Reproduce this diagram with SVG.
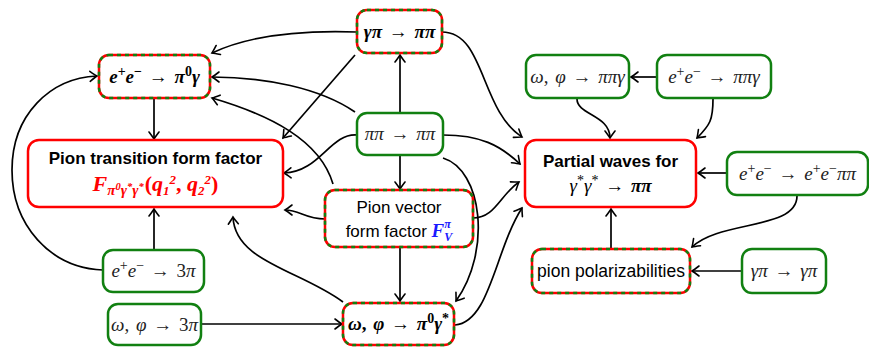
<svg xmlns="http://www.w3.org/2000/svg" width="869" height="347" viewBox="0 0 869 347">
<defs>
<style>
.box{fill:#fff;stroke-width:2.5}
.g{stroke:#118011}
.r{stroke:#f00}
.dash{fill:none;stroke:#118011;stroke-width:2.5;stroke-dasharray:4 4}
.e{fill:none;stroke:#000;stroke-width:1.7}
.m{font-family:"Liberation Serif","DejaVu Serif",serif;font-size:19px;fill:#222;word-spacing:2px}
.mb{font-family:"Liberation Serif","DejaVu Serif",serif;font-size:19px;font-weight:bold;fill:#000;word-spacing:2px}
.s{font-family:"Liberation Sans","DejaVu Sans",sans-serif;font-size:17px;fill:#000}
.sb{font-family:"Liberation Sans","DejaVu Sans",sans-serif;font-size:17px;font-weight:bold;fill:#000}
.i{font-style:italic}
.sup{font-size:14px}
</style>
<marker id="ah" viewBox="-10 -7 12 14" refX="0" refY="0" markerWidth="12" markerHeight="14" markerUnits="userSpaceOnUse" orient="auto">
<path d="M-7,-5 Q-2,-1.2 0,0 Q-2,1.2 -7,5" fill="none" stroke="#000" stroke-width="1.6" stroke-linecap="round"/>
</marker>
</defs>
<g id="edges" class="e" marker-end="url(#ah)">
<path d="M357,32 C300,30 250,35 212,53"/>
<path d="M355,55 L283,138"/>
<path d="M355,112 C320,88 265,77 212,77"/>
<path d="M357,135 C330,133 320,172 284,173"/>
<path d="M333,184 C320,140 270,115 212,98"/>
<path d="M325,219 C305,219 300,210 285,210"/>
<path d="M343,302 C300,270 235,262 233,217"/>
<path d="M154,250 L154,209"/>
<path d="M154,99 L154,139"/>
<path d="M103,270 C50,268 12,225 12,170 C12,115 50,78 97,76"/>
<path d="M400,113 L400,55"/>
<path d="M400,155 L400,189"/>
<path d="M400,247 L400,301"/>
<path d="M201,324 L342,324"/>
<path d="M443,158 C482,170 492,250 456,301"/>
<path d="M442,32 C485,32 480,110 522,137"/>
<path d="M443,135 C480,135 500,145 520,164"/>
<path d="M473,218 C495,218 500,195 519,182"/>
<path d="M455,325 C490,322 495,250 522,208"/>
<path d="M577,99 C577,115 610,115 610,138"/>
<path d="M713,99 C713,120 710,125 697,138"/>
<path d="M727,173 L698,173"/>
<path d="M797,196 C797,230 720,220 692,247"/>
<path d="M611,249 L611,209"/>
<path d="M742,271 L692,271"/>
<path d="M657,77 L631,77"/>
</g>
<g id="n-ee-pi0g">
<rect class="box r" x="99" y="55" width="111" height="43" rx="10"/>
<rect class="dash" x="99" y="55" width="111" height="43" rx="10"/>
<text class="mb" x="154.5" y="83" text-anchor="middle"><tspan class="i">e</tspan><tspan class="sup" dy="-7">+</tspan><tspan class="i" dy="7">e</tspan><tspan class="sup" dy="-7">−</tspan><tspan dy="7"> → </tspan><tspan class="i">π</tspan><tspan class="sup" dy="-7">0</tspan><tspan class="i" dy="7">γ</tspan></text>
</g>
<g id="n-gpi-pipi">
<rect class="box r" x="357" y="10" width="85" height="43" rx="10"/>
<rect class="dash" x="357" y="10" width="85" height="43" rx="10"/>
<text class="mb" x="399.5" y="38" text-anchor="middle"><tspan class="i">γπ</tspan> → <tspan class="i">ππ</tspan></text>
</g>
<g id="n-wphi-pipig">
<rect class="box g" x="526" y="55" width="103" height="43" rx="10"/>
<text class="m" x="577.5" y="83" text-anchor="middle"><tspan class="i">ω</tspan>, <tspan class="i">φ</tspan> → <tspan class="i">ππγ</tspan></text>
</g>
<g id="n-ee-pipig">
<rect class="box g" x="657" y="55" width="114" height="43" rx="10"/>
<text class="m" x="714" y="83" text-anchor="middle"><tspan class="i">e</tspan><tspan class="sup" dy="-7">+</tspan><tspan class="i" dy="7">e</tspan><tspan class="sup" dy="-7">−</tspan><tspan dy="7"> → </tspan><tspan class="i">ππγ</tspan></text>
</g>
<g id="n-tff">
<rect class="box r" x="28" y="140" width="255" height="67" rx="11"/>
<text class="sb" x="155.5" y="164" text-anchor="middle">Pion transition form factor</text>
<text class="mb i" x="155.5" y="191" text-anchor="middle" style="fill:#f00;word-spacing:0;font-size:22px">F<tspan font-size="15" dy="4">π</tspan><tspan font-size="10.5" dy="-5">0</tspan><tspan font-size="15" dy="5">γ</tspan><tspan font-size="10.5" dy="-5">*</tspan><tspan font-size="15" dy="5">γ</tspan><tspan font-size="10.5" dy="-5">*</tspan><tspan font-style="normal" dx="1" dy="1">(</tspan>q<tspan font-size="13" dy="4">1</tspan><tspan font-size="13" dy="-11">2</tspan><tspan font-style="normal" dy="7">, </tspan>q<tspan font-size="13" dy="4">2</tspan><tspan font-size="13" dy="-11">2</tspan><tspan font-style="normal" dy="7">)</tspan></text>
</g>
<g id="n-pipi-pipi">
<rect class="box g" x="357" y="113" width="86" height="42" rx="10"/>
<text class="m" x="400" y="140" text-anchor="middle"><tspan class="i">ππ</tspan> → <tspan class="i">ππ</tspan></text>
</g>
<g id="n-vff">
<rect class="box r" x="325" y="190" width="148" height="57" rx="10"/>
<rect class="dash" x="325" y="190" width="148" height="57" rx="10"/>
<text class="s" x="399" y="213" text-anchor="middle">Pion vector</text>
<text class="s" x="399" y="237" text-anchor="middle">form factor <tspan class="i" font-family="Liberation Serif,serif" font-weight="bold" font-size="19" fill="#1a1aff">F</tspan><tspan font-family="Liberation Serif,serif" font-weight="bold" font-style="italic" font-size="12" fill="#1a1aff" dy="-9">π</tspan><tspan font-family="Liberation Serif,serif" font-weight="bold" font-style="italic" font-size="12" fill="#1a1aff" dx="-6.5" dy="13">V</tspan></text>
</g>
<g id="n-pw">
<rect class="box r" x="525" y="140" width="171" height="67" rx="11"/>
<text class="sb" x="610.5" y="167" text-anchor="middle">Partial waves for</text>
<text class="m" x="610.5" y="192" text-anchor="middle" style="fill:#000"><tspan class="i">γ</tspan><tspan class="sup" dy="-7">*</tspan><tspan class="i" dy="7">γ</tspan><tspan class="sup" dy="-7">*</tspan><tspan dy="7"> → </tspan><tspan class="i" font-weight="bold">ππ</tspan></text>
</g>
<g id="n-ee-eepipi">
<rect class="box g" x="727" y="152" width="141" height="43" rx="10"/>
<text class="m" x="797.5" y="180" text-anchor="middle"><tspan class="i">e</tspan><tspan class="sup" dy="-7">+</tspan><tspan class="i" dy="7">e</tspan><tspan class="sup" dy="-7">−</tspan><tspan dy="7"> → </tspan><tspan class="i">e</tspan><tspan class="sup" dy="-7">+</tspan><tspan class="i" dy="7">e</tspan><tspan class="sup" dy="-7">−</tspan><tspan class="i" dy="7">ππ</tspan></text>
</g>
<g id="n-ee-3pi">
<rect class="box g" x="103" y="250" width="101" height="42" rx="10"/>
<text class="m" x="153.5" y="277" text-anchor="middle"><tspan class="i">e</tspan><tspan class="sup" dy="-7">+</tspan><tspan class="i" dy="7">e</tspan><tspan class="sup" dy="-7">−</tspan><tspan dy="7"> → 3</tspan><tspan class="i">π</tspan></text>
</g>
<g id="n-wphi-3pi">
<rect class="box g" x="108" y="304" width="93" height="41" rx="10"/>
<text class="m" x="154.5" y="331" text-anchor="middle"><tspan class="i">ω</tspan>, <tspan class="i">φ</tspan> → 3<tspan class="i">π</tspan></text>
</g>
<g id="n-wphi-pi0gs">
<rect class="box r" x="343" y="303" width="111" height="42" rx="10"/>
<rect class="dash" x="343" y="303" width="111" height="42" rx="10"/>
<text class="mb" x="398.5" y="330" text-anchor="middle"><tspan class="i">ω</tspan>, <tspan class="i">φ</tspan> → <tspan class="i">π</tspan><tspan class="sup" dy="-7">0</tspan><tspan class="i" dy="7">γ</tspan><tspan class="sup" dy="-7">*</tspan></text>
</g>
<g id="n-polar">
<rect class="box r" x="532" y="249" width="158" height="44" rx="10"/>
<rect class="dash" x="532" y="249" width="158" height="44" rx="10"/>
<text class="s" x="611" y="277" text-anchor="middle" style="font-size:17.5px">pion polarizabilities</text>
</g>
<g id="n-gpi-gpi">
<rect class="box g" x="742" y="249" width="84" height="44" rx="10"/>
<text class="m" x="784" y="277" text-anchor="middle"><tspan class="i">γπ</tspan> → <tspan class="i">γπ</tspan></text>
</g>
</svg>
